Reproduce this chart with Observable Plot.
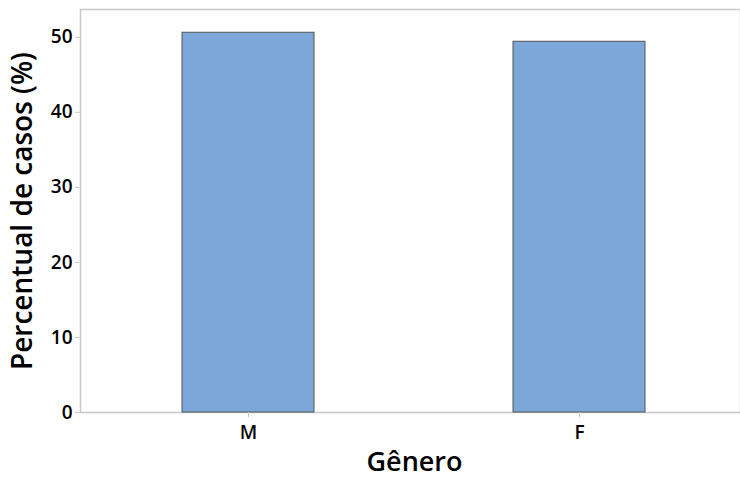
<!DOCTYPE html>
<html>
<head>
<meta charset="utf-8">
<script src="https://cdn.jsdelivr.net/npm/d3@7"></script>
<script src="https://cdn.jsdelivr.net/npm/@observablehq/plot@0.6"></script>
<style>
  html, body { margin: 0; padding: 0; background: #fff; }
  #chart svg { display: block; }
</style>
</head>
<body>
<div id="chart"></div>
<script>
const categories = ["M", "F"];
const percentages = [50.6, 49.4];
const yTicks = [0, 10, 20, 30, 40, 50];
const xTitle = "Gênero";
const yTitle = "Percentual de casos (%)";

const data = categories.map((c, i) => ({genero: c, pct: percentages[i]}));

const chart = Plot.plot({
  width: 740,
  height: 478,
  marginLeft: 80,
  marginRight: 0,
  marginTop: 9,
  marginBottom: 66,
  style: {fontFamily: "'Open Sans', sans-serif", fontWeight: 600, color: "#000", background: "#fff"},
  x: {domain: categories, paddingInner: 0.6, paddingOuter: 0.294, align: 0.517},
  y: {domain: [0, 53.7]},
  marks: [
    Plot.frame({stroke: "#c8c8c8", strokeWidth: 1.5}),
    Plot.barY(data, {x: "genero", y: "pct", fill: "#7ba7d9", stroke: "#555", strokeWidth: 1}),
    Plot.axisY({ticks: yTicks, tickSize: 5, tickPadding: 3, fontSize: 19, stroke: "#c8c8c8", label: null, fill: "#000"}),
    Plot.axisX({tickSize: 5, tickPadding: 8, fontSize: 19, stroke: "#c8c8c8", label: null, fill: "#000"}),
    Plot.text([yTitle], {text: d => d, frameAnchor: "left", textAnchor: "middle", rotate: -90, dx: -57, fontSize: 28, fontWeight: 600, fill: "#000"}),
    Plot.text([xTitle], {text: d => d, frameAnchor: "bottom", textAnchor: "middle", dy: 58, dx: 4, fontSize: 27, fontWeight: 600, fill: "#000"})
  ]
});
document.getElementById("chart").appendChild(chart);
</script>
</body>
</html>
